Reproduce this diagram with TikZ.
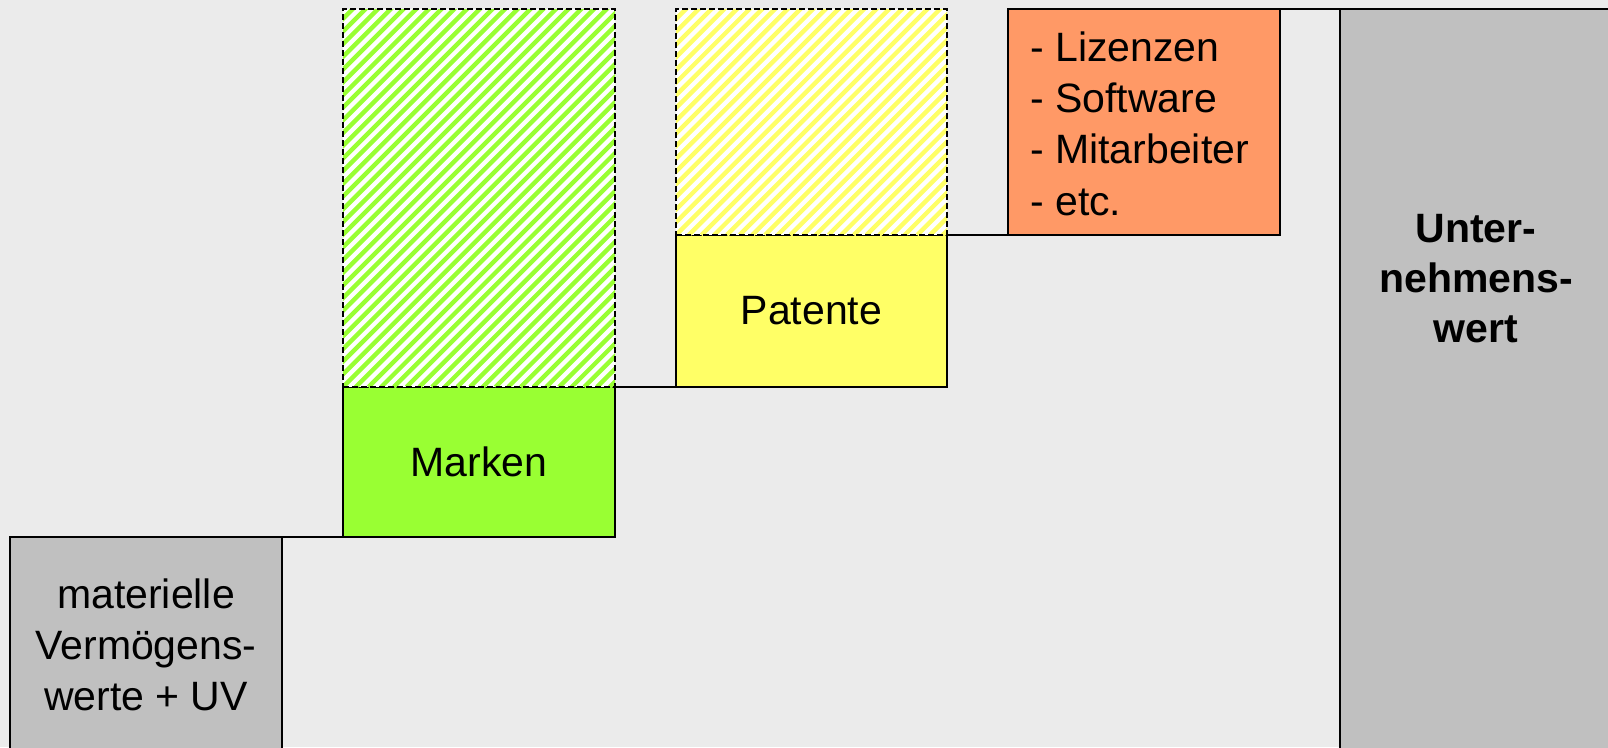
\documentclass[tikz,border=0pt]{standalone}
\usepackage{fontspec}
\setmainfont{Liberation Sans}
\usetikzlibrary{calc}
\definecolor{bg}{HTML}{EBEBEB}
\definecolor{grayb}{HTML}{C0C0C0}
\definecolor{greenb}{HTML}{99FF33}
\definecolor{yellowb}{HTML}{FFFF66}
\definecolor{orangeb}{HTML}{FF9966}
\begin{document}
\begin{tikzpicture}[x=1pt,y=-1pt,
  box/.style={draw=black,line width=1.5pt,rectangle,inner sep=0pt,outer sep=0pt,anchor=north west},
  hatchbox/.style={draw=black,line width=1.3pt,rectangle,inner sep=0pt,outer sep=0pt,anchor=north west,
     fill=white,dash pattern=on 6pt off 3pt,
     path picture={\foreach \k in {-40,...,30}{\draw[solid,line width=4.4pt,draw=#1] ($(path picture bounding box.south west)+(\k*12.7pt,0pt)$) -- ++(500pt,500pt);}}},
  lbl/.style={font=\fontsize{41}{51}\selectfont, align=center},
  bl/.style={font=\fontsize{41}{50}\selectfont\bfseries, align=center},
  conn/.style={draw=black,line width=1.5pt}]
\useasboundingbox (0,0) rectangle (1608,747);
\fill[bg] (0,0) rectangle (1608,747);
\clip (0,0) rectangle (1608,747);
% solid boxes
\node[box,fill=grayb,minimum width=272pt,minimum height=230pt] (matA) at (10,537) {};
\node[box,fill=greenb,minimum width=272pt,minimum height=150pt,lbl] (marken) at (343,387) {Marken};
\node[box,fill=yellowb,minimum width=271pt,minimum height=152pt,lbl] (patente) at (676,235) {Patente};
\node[box,fill=orangeb,minimum width=272pt,minimum height=226pt] (sonst) at (1008,9) {};
\node[box,fill=grayb,minimum width=300pt,minimum height=760pt] (uw) at (1340,9) {};
% hatched boxes
\node[hatchbox=greenb,minimum width=272pt,minimum height=378pt] (hg) at (343,9) {};
\node[hatchbox=yellowb,minimum width=271pt,minimum height=226pt] (hy) at (676,9) {};
% connectors
\draw[conn] (matA.north east) -- (marken.south west);
\draw[conn] (marken.north east) -- (patente.south west);
\draw[conn] (patente.north east) -- (sonst.south west);
\draw[conn] (sonst.north east) -- (uw.north west);
% texts
\node[lbl,anchor=base,inner sep=0pt] (tA) at (146,710) {materielle\\Vermögens-\\werte + UV};
\node[font=\fontsize{41}{51.3}\selectfont,align=left,anchor=base west,inner sep=0pt] (tS) at (1030,215) {- Lizenzen\\- Software\\- Mitarbeiter\\- etc.};
\node[bl,anchor=base,inner sep=0pt] (tU) at (1476,342) {Unter-\\nehmens-\\wert};
\end{tikzpicture}
\end{document}
